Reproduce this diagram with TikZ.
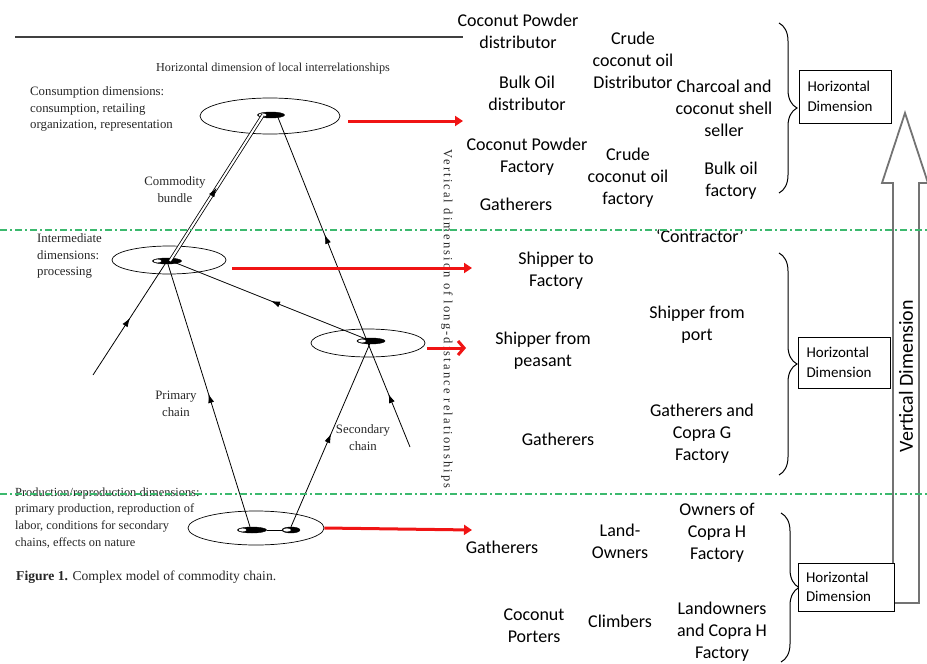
\documentclass[tikz,border=0pt]{standalone}
\usepackage{fontspec}
\setmainfont{Liberation Serif}
\newfontfamily\calibri{Carlito}
\newfontfamily\spacedserif[LetterSpace=17]{Liberation Serif}
\usetikzlibrary{shapes.geometric,arrows.meta,decorations.markings,decorations.pathreplacing}

\definecolor{dimgreen}{RGB}{60,185,110}
\definecolor{chainred}{RGB}{240,20,20}

\tikzset{
  level/.style={ellipse, draw, line width=0.7pt, inner sep=0pt},
  blob/.style={ellipse, draw, fill=black, inner sep=0pt, minimum height=6pt,
    path picture={\fill[white] ([xshift=5pt]path picture bounding box.west) ellipse (4pt and 1.6pt);}},
  chain/.style={line width=0.8pt},
  midarrow/.style={postaction={decorate}, decoration={markings,
    mark=at position #1 with {\arrow{Latex[length=9pt,width=6pt]}}}},
  redarrow/.style={chainred, line width=3pt, -{Triangle[length=8pt,width=10pt]}},
  serifnote/.style={font=\fontsize{12.8}{16.8}\selectfont, text=black!85, align=left, inner sep=0pt},
  actor/.style={font=\calibri\fontsize{18}{22}\selectfont, align=center, inner sep=0pt},
  hbox/.style={draw, line width=1pt, fill=white, text width=76pt, inner sep=8pt, align=left,
    font=\calibri\fontsize{15}{19.5}\selectfont},
  hbrace/.style={decorate, decoration={brace, amplitude=18pt}, line width=1pt},
  greenline/.style={dimgreen, line width=1.3pt, dash pattern=on 7pt off 3pt on 2pt off 3pt}
}

\begin{document}
\begin{tikzpicture}[x=1pt, y=-1pt]
    \useasboundingbox (0,0) rectangle (927,664);

    % Left model
    \draw[line width=2.5pt, black!75] (15,37) -- (463,37);
    \node[serifnote, font=\fontsize{12.2}{14}\selectfont] (hlocal) at (273,69) {Horizontal dimension of local interrelationships};
    \node[serifnote, anchor=west] (consdim) at (30,109) {Consumption dimensions:\\consumption, retailing\\organization, representation};
    \node[serifnote, anchor=west] (interdim) at (37,256) {Intermediate\\dimensions:\\processing};
    \node[serifnote, anchor=west, font=\fontsize{12.4}{16.8}\selectfont] (proddim) at (15,518) {Production/reproduction dimensions:\\primary production, reproduction of\\labor, conditions for secondary\\chains, effects on nature};
    \node[serifnote, anchor=west, font=\fontsize{13.6}{16}\selectfont] (caption) at (16,577) {\textbf{Figure 1.} Complex model of commodity chain.};

    \node[level, minimum width=140pt, minimum height=36pt] (topell) at (270,116) {};
    \node[level, minimum width=114pt, minimum height=28pt] (midlell) at (169,260) {};
    \node[level, minimum width=114pt, minimum height=28pt] (midrell) at (368,343) {};
    \node[level, minimum width=136pt, minimum height=34pt] (botell) at (256,528) {};

    \node[blob, minimum width=27pt] (topblob) at (271,115) {};
    \node[blob, minimum width=29pt] (midlblob) at (167,261) {};
    \node[blob, minimum width=28pt] (midrblob) at (371,341) {};
    \node[blob, minimum width=29pt] (botlblob) at (252,530) {};
    \node[blob, minimum width=18pt] (botrblob) at (291,530) {};
    \coordinate (bundlein) at (93,375);
    \coordinate (secondin) at (410,447);

    \node[serifnote, align=center] (bundle) at (175,190) {Commodity\\bundle};
    \node[serifnote, align=center] (primary) at (176,404) {Primary\\chain};
    \node[serifnote, align=center] (secondary) at (363,438) {Secondary\\chain};

    % Chains
    \draw[chain, midarrow=0.5] (bundlein) -- (midlblob.center);
    \draw[chain, double, double distance=2pt] ([xshift=3pt]midlblob.center) -- ([xshift=-8pt]topblob.center);
    \path[midarrow=0.5] ([xshift=3pt]midlblob.center) -- ([xshift=-8pt]topblob.center);
    \draw[chain, midarrow=0.5] ([xshift=-2pt]botlblob.north) -- (midlblob.center);
    \draw[chain, midarrow=0.5] (midrblob.center) -- ([xshift=4pt]midlblob.center);
    \draw[chain, midarrow=0.5] (botrblob.north) -- (midrblob.center);
    \draw[chain, midarrow=0.5] (secondin) -- ([xshift=-4pt]midrblob.center);
    \draw[chain, midarrow=0.47] ([xshift=-4pt]midrblob.center) -- ([xshift=6pt]topblob.center);
    \draw[line width=0.8pt] (botlblob) -- (botrblob);

    \node[font=\spacedserif\fontsize{12.5}{14}\selectfont, text=black!85, rotate=-90, inner sep=0pt] (longdist) at (447,319) {Vertical dimension of long-distance relationships};

    % Red arrows
    \coordinate (topend) at (463,121);
    \coordinate (midlend) at (472,268);
    \coordinate (midrend) at (466,348);
    \coordinate (botend) at (472,530);
    \draw[redarrow] ([xshift=8pt,yshift=-5pt]topell.east) -- (topend);
    \draw[redarrow] ([xshift=6pt,yshift=-8pt]midlell.east) -- (midlend);
    \draw[redarrow, -{Straight Barb[length=6pt,width=14pt]}] ([xshift=2pt,yshift=-5pt]midrell.east) -- (midrend);
    \draw[chainred, line width=3pt, -{Triangle[length=8pt,width=10pt]}] (botell.east) -- (botend);

    % Vertical dimension arrow
    \draw[black!55, line width=1.8pt, fill=white] (893,603) -- (893,183) -- (882,183) -- (905,113)
      -- (928,183) -- (919,183) -- (919,603) -- cycle;
    \node[font=\calibri\fontsize{20}{22}\selectfont, rotate=90, inner sep=0pt] (vdim) at (906,376) {Vertical Dimension};

    % Actors, upper level
    \node[actor] (cpdist) at (518,31) {Coconut Powder\\distributor};
    \node[actor] (crudedist) at (633,60) {Crude\\coconut oil\\Distributor};
    \node[actor] (bulkdist) at (527,93) {Bulk Oil\\distributor};
    \node[actor] (charcoal) at (724,108) {Charcoal and\\coconut shell\\seller};
    \node[actor] (cpfact) at (527,157) {Coconut Powder\\Factory};
    \node[actor] (crudefact) at (628,178) {Crude\\coconut oil\\factory};
    \node[actor] (bulkfact) at (731,181) {Bulk oil\\factory};
    \node[actor] (gathtop) at (516,204) {Gatherers};

    % Actors, middle level
    \node[actor] (contractor) at (700,236) {‘Contractor’};
    \node[actor] (shipfact) at (556,271) {Shipper to\\Factory};
    \node[actor] (shipport) at (697,325) {Shipper from\\port};
    \node[actor] (shippeas) at (543,351) {Shipper from\\peasant};
    \node[actor] (gathmid) at (558,439) {Gatherers};
    \node[actor] (gathcopra) at (702,434) {Gatherers and\\Copra G\\Factory};

    % Actors, lower level
    \node[actor] (gathlow) at (502,547) {Gatherers};
    \node[actor] (landown) at (620,541) {Land-\\Owners};
    \node[actor] (ownersh) at (717,533) {Owners of\\Copra H\\Factory};
    \node[actor] (porters) at (534,626) {Coconut\\Porters};
    \node[actor] (climbers) at (620,621) {Climbers};
    \node[actor] (landcopra) at (722,632) {Landowners\\and Copra H\\Factory};

    % Horizontal dimensions
    \draw[hbrace] (779,23) -- (779,193);
    \draw[hbrace] (779,253) -- (779,475);
    \draw[hbrace] (781,513) -- (781,662);
    \node[hbox, minimum height=53pt] (hdone) at (845.5,96.5) {Horizontal\\Dimension};
    \node[hbox, minimum height=51pt] (hdtwo) at (844.5,362.5) {Horizontal\\Dimension};
    \node[hbox, minimum height=48pt, text width=80pt] (hdthree) at (846,587) {Horizontal\\Dimension};

    % Level borders
    \draw[greenline] (0,230) -- (927,230);
    \draw[greenline] (0,494) -- (927,494);
\end{tikzpicture}
\end{document}
